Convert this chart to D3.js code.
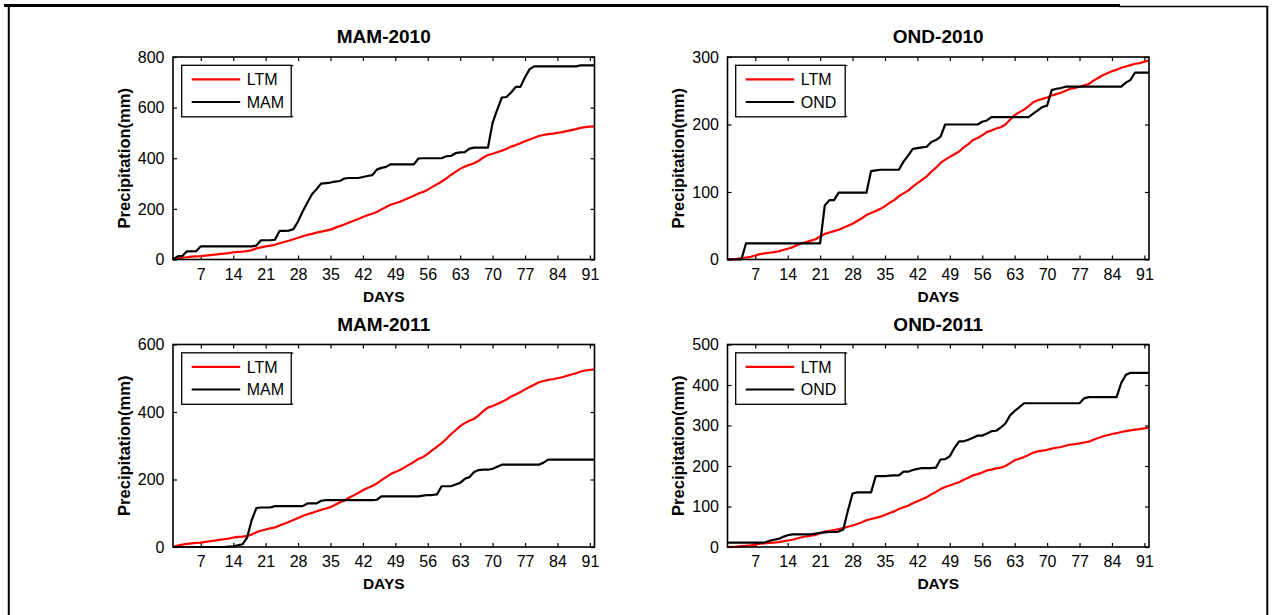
<!DOCTYPE html>
<html>
<head>
<meta charset="utf-8">
<script src="https://cdn.jsdelivr.net/npm/d3@7"></script>
<style>
  html, body { margin: 0; padding: 0; background: #fff; }
  svg { display: block; }
  text { font-family: "Liberation Sans", Arial, sans-serif; fill: #000; }
</style>
</head>
<body>
<svg id="chart" width="1274" height="615"></svg>
<script>
// Cumulative daily precipitation (mm), days 1..92 of each season
const days = d3.range(1, 93);

// Long-term mean, March-April-May
const ltmMAM = [0,4,7,9,11,12,13,15,17,19,21,23,25,28,30,31,33,37,44,48,
  52,55,58,64,69,74,80,86,92,97,101,106,110,114,118,125,132,138,146,153,
  160,168,175,181,188,198,207,216,222,228,236,244,252,261,267,276,287,297,308,320,
  334,346,358,367,374,380,390,403,413,418,424,430,437,446,452,459,467,474,481,488,
  492,495,497,500,503,507,511,515,520,523,525,526];

// Long-term mean, October-November-December
const ltmOND = [0,0.5,1,2,3,4,6,8,9,10,11,12,14,16,18,21,24,26,28,30,
  34,38,40,42,44,47,50,53,57,61,66,69,72,75,79,84,88,94,98,102,
  108,113,118,123,130,136,143,148,152,156,160,166,171,177,180,184,189,191,194,196,
  200,207,214,218,222,227,233,236,238,240,243,245,247,250,253,254,256,258,260,265,
  269,273,276,279,281,284,286,288,290,291,293,295];

const mam2010 = [0,12,14,32,32,33,52,52,52,52,52,52,52,52,52,52,52,52,55,76,
  76,76,78,113,113,114,120,150,190,224,258,278,300,302,304,308,310,320,322,322,
  322,326,330,333,355,362,366,376,376,376,376,376,376,399,400,400,400,400,400,408,
  409,420,423,424,438,442,442,442,442,540,592,640,642,660,682,682,720,752,763,763,
  763,763,763,763,763,763,763,763,767,767,767,767];

const ond2010 = [0,0,0,0,24,24,24,24,24,24,24,24,24,24,24,24,24,24,24,24,
  24,80,88,88,99,99,99,99,99,99,99,131,132,133,133,133,133,133,145,154,
  164,165,166,167,174,177,182,200,200,200,200,200,200,200,200,204,206,211,211,211,
  211,211,211,211,211,211,216,221,226,228,251,253,254,256,256,256,256,256,256,256,
  256,256,256,256,256,256,262,266,277,277,277,277];

const mam2011 = [0,0,0,0,0,0,0,0,0,0,0,0,1,2,5,8,28,80,115,117,
  117,117,121,121,121,121,121,121,121,129,129,129,137,139,139,139,139,139,139,139,
  139,139,139,139,140,150,150,150,150,150,150,150,150,150,152,154,154,156,180,180,
  180,185,190,202,207,222,228,229,229,232,238,244,244,244,244,244,244,244,244,244,
  250,259,259,259,259,259,259,259,259,259,259,259];

const ond2011 = [11,11,11,11,11,11,11,11,11,15,18,20,25,29,31,31,31,31,31,33,
  35,36,37,37,38,43,90,132,135,135,135,135,175,175,175,176,177,177,186,186,
  190,193,195,195,195,196,216,217,224,245,261,261,265,270,275,275,280,286,287,295,
  305,325,336,345,355,355,355,355,355,355,355,355,355,355,355,355,355,367,370,370,
  370,370,370,370,370,405,425,430,430,430,430,430];

const xTicks = [7, 14, 21, 28, 35, 42, 49, 56, 63, 70, 77, 84, 91];

const panels = [
  { title: "MAM-2010", series: mam2010, ltm: ltmMAM, name: "MAM", yMax: 800, yTicks: [0, 200, 400, 600, 800], col: 0, row: 0 },
  { title: "OND-2010", series: ond2010, ltm: ltmOND, name: "OND", yMax: 300, yTicks: [0, 100, 200, 300], col: 1, row: 0 },
  { title: "MAM-2011", series: mam2011, ltm: ltmMAM, name: "MAM", yMax: 600, yTicks: [0, 200, 400, 600], col: 0, row: 1 },
  { title: "OND-2011", series: ond2011, ltm: ltmOND, name: "OND", yMax: 500, yTicks: [0, 100, 200, 300, 400, 500], col: 1, row: 1 }
];

const svg = d3.select("#chart");

// Page frame
const frame = svg.append("g");
frame.append("line").attr("x1", 4).attr("x2", 1120).attr("y1", 5.5).attr("y2", 5.5)
  .attr("stroke", "#000").attr("stroke-width", 3);
frame.append("line").attr("x1", 1119).attr("x2", 1268).attr("y1", 6.5).attr("y2", 6.5)
  .attr("stroke", "#000").attr("stroke-width", 1.5);
frame.append("line").attr("x1", 8.8).attr("x2", 8.8).attr("y1", 5).attr("y2", 615)
  .attr("stroke", "#000").attr("stroke-width", 2);
frame.append("line").attr("x1", 1267.3).attr("x2", 1267.3).attr("y1", 6).attr("y2", 615)
  .attr("stroke", "#000").attr("stroke-width", 2);

const colLeft = [173, 727.5];
const rowTop = [57, 344.5];
const plotW = 421.5, plotH = 202.5;
const tickLen = 4;

panels.forEach(p => {
  const x0 = colLeft[p.col], y0 = rowTop[p.row];
  const g = svg.append("g").attr("transform", `translate(${x0},${y0})`);

  const x = d3.scaleLinear().domain([1, 92]).range([0, plotW]);
  const y = d3.scaleLinear().domain([0, p.yMax]).range([plotH, 0]);

  // Axes on all four sides, ticks pointing inward
  const fmt = d3.format("d");
  const bottom = g.append("g").attr("transform", `translate(0,${plotH})`)
    .call(d3.axisBottom(x).tickValues(xTicks).tickSizeInner(-tickLen).tickSizeOuter(0).tickPadding(9).tickFormat(fmt));
  const top = g.append("g")
    .call(d3.axisTop(x).tickValues(xTicks).tickSizeInner(-tickLen).tickSizeOuter(0).tickFormat(""));
  const left = g.append("g")
    .call(d3.axisLeft(y).tickValues(p.yTicks).tickSizeInner(-tickLen).tickSizeOuter(0).tickPadding(8.5).tickFormat(fmt));
  const right = g.append("g").attr("transform", `translate(${plotW},0)`)
    .call(d3.axisRight(y).tickValues(p.yTicks).tickSizeInner(-tickLen).tickSizeOuter(0).tickFormat(""));

  [bottom, top, left, right].forEach(a => {
    a.select(".domain").remove();
    a.selectAll(".tick line").attr("stroke", "#000").attr("stroke-width", 1.2);
    a.selectAll("text").attr("font-size", 16).attr("font-family", "\"Liberation Sans\", Arial, sans-serif").attr("fill", "#000");
  });

  // Data lines
  const line = d3.line().x((d, i) => x(days[i])).y(d => y(d));
  g.append("path").datum(p.ltm).attr("d", line)
    .attr("fill", "none").attr("stroke", "#ff0000").attr("stroke-width", 2.2).attr("stroke-linejoin", "round");
  g.append("path").datum(p.series).attr("d", line)
    .attr("fill", "none").attr("stroke", "#000").attr("stroke-width", 2.2).attr("stroke-linejoin", "round");

  // Plot box
  g.append("rect").attr("x", 0).attr("y", 0).attr("width", plotW).attr("height", plotH)
    .attr("fill", "none").attr("stroke", "#000").attr("stroke-width", 1.6);

  // Title and axis labels
  g.append("text").attr("x", plotW / 2).attr("y", -14).attr("text-anchor", "middle")
    .attr("font-size", 19).attr("font-weight", "bold").text(p.title);
  g.append("text").attr("x", plotW / 2).attr("y", plotH + 42).attr("text-anchor", "middle")
    .attr("font-size", 15.5).attr("font-weight", "bold").text("DAYS");
  g.append("text")
    .attr("transform", `translate(${p.col === 0 ? -49 : -50},${plotH / 2}) rotate(-90)`)
    .attr("text-anchor", "middle").attr("dominant-baseline", "central")
    .attr("font-size", 16.5).attr("font-weight", "bold").text("Precipitation(mm)");

  // Legend
  const lg = g.append("g").attr("transform", `translate(${p.col === 0 ? 8.7 : 8.2},8.3)`);
  const lw = 109.5, lh = 51.5;
  lg.append("rect").attr("x", 0).attr("y", 0).attr("width", lw).attr("height", lh)
    .attr("fill", "#fff").attr("stroke", "#000").attr("stroke-width", 1.3);
  lg.append("line").attr("x1", lw).attr("x2", lw + 2).attr("y1", 0.3).attr("y2", 0.3).attr("stroke", "#000").attr("stroke-width", 1.3);
  lg.append("line").attr("x1", lw).attr("x2", lw + 2).attr("y1", lh - 0.3).attr("y2", lh - 0.3).attr("stroke", "#000").attr("stroke-width", 1.3);
  const entries = [{ label: "LTM", color: "#ff0000" }, { label: p.name, color: "#000" }];
  entries.forEach((e, i) => {
    const ly = 14 + i * 22.7;
    lg.append("line").attr("x1", 10).attr("x2", 58.5).attr("y1", ly).attr("y2", ly)
      .attr("stroke", e.color).attr("stroke-width", 2.2);
    lg.append("text").attr("x", 65).attr("y", ly + 6).attr("font-size", 16).text(e.label);
  });
});
</script>
</body>
</html>
